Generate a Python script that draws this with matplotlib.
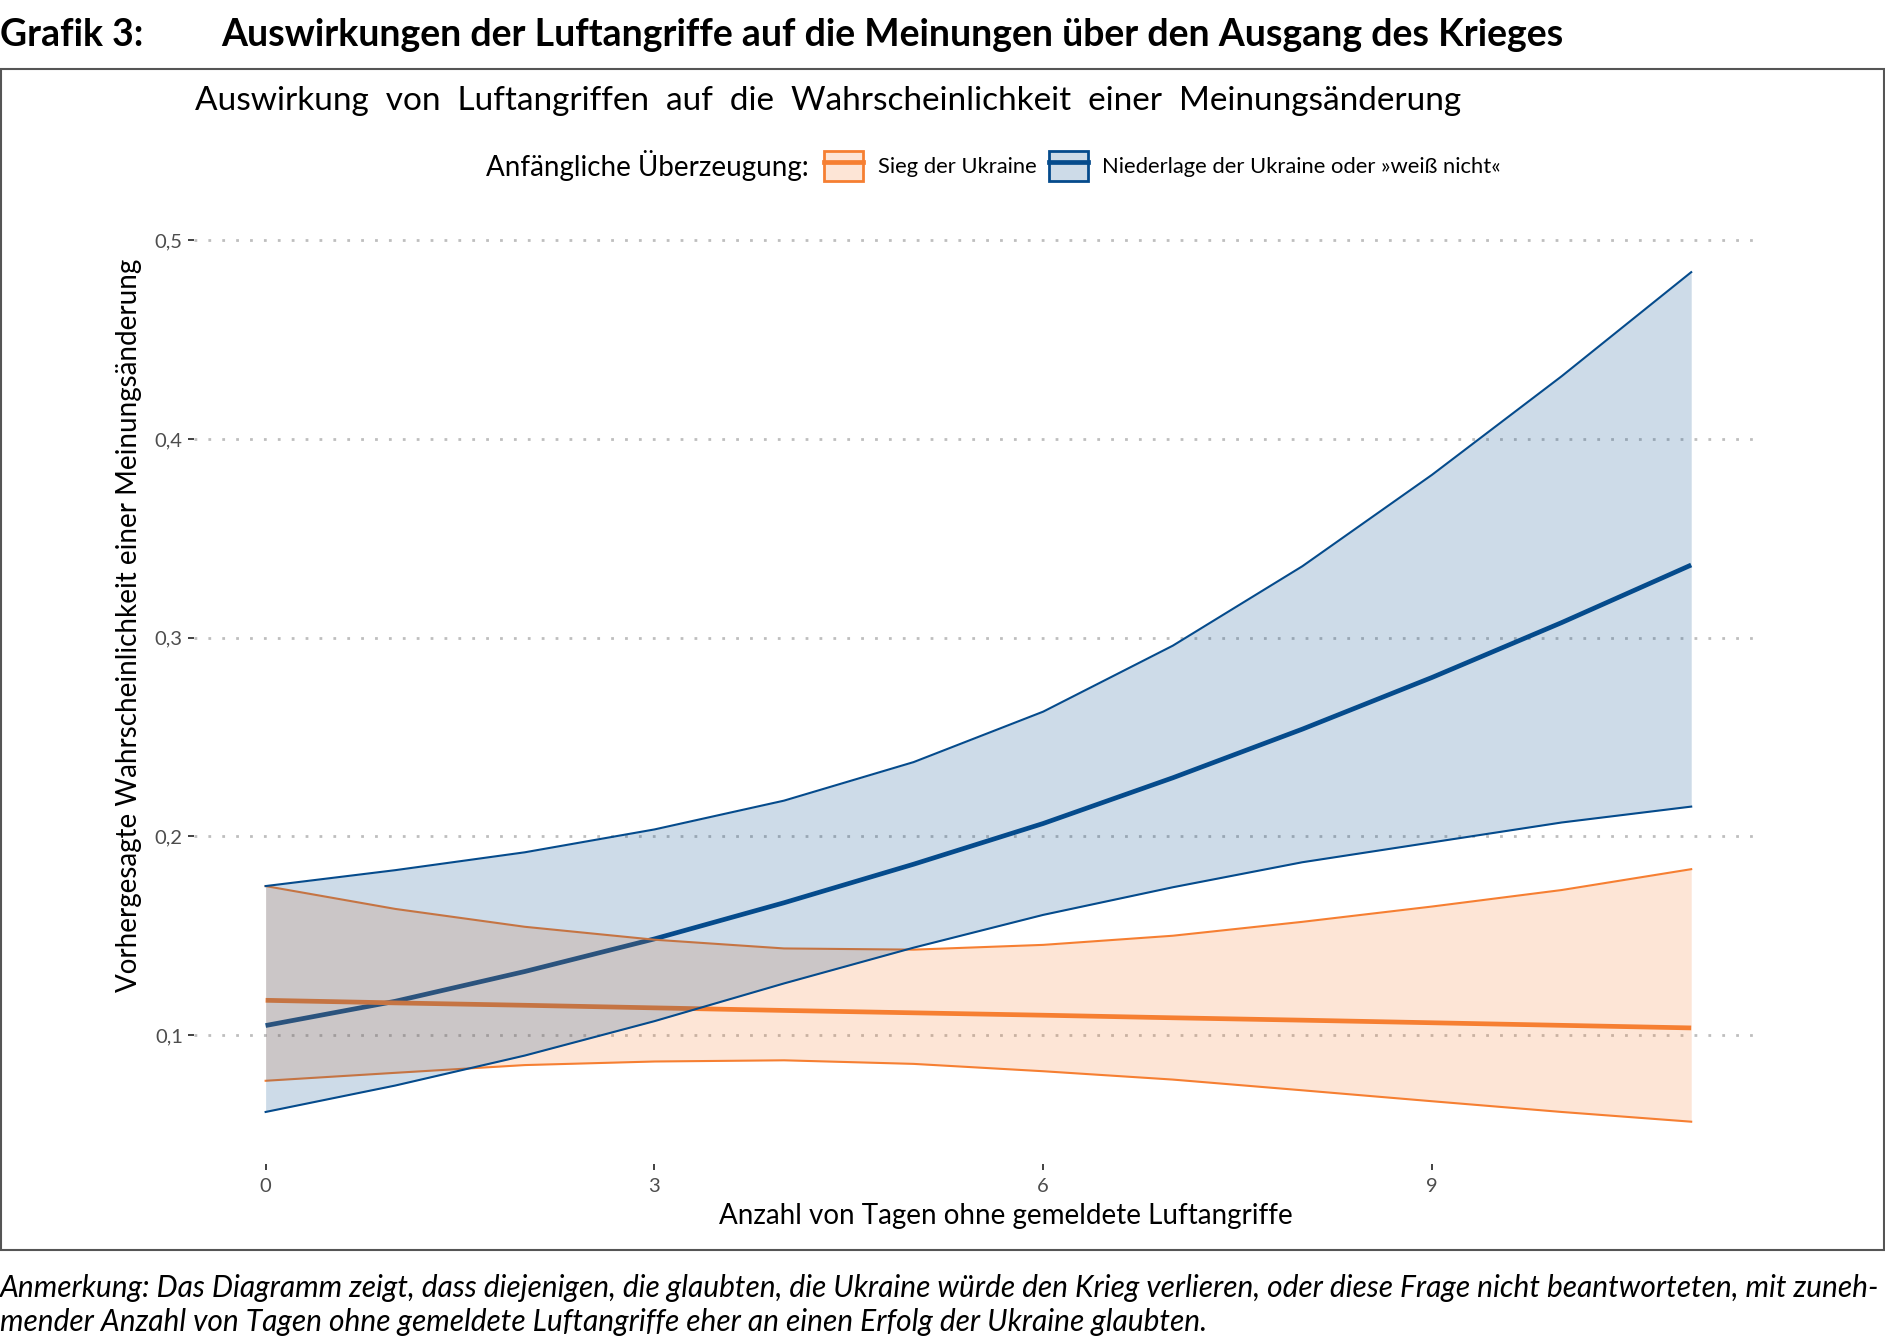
import numpy as np
import matplotlib
matplotlib.use("Agg")
import matplotlib.pyplot as plt
from matplotlib.patches import Patch, Rectangle
from matplotlib.lines import Line2D
from matplotlib.legend_handler import HandlerTuple

plt.rcParams["font.family"] = ["Lato", "DejaVu Sans"]

# Days without reported air raids
days = [0, 1, 2, 3, 4, 5, 6, 7, 8, 9, 10, 11]

# Initial belief: victory of Ukraine
sieg_mean = [0.1175, 0.1162, 0.1150, 0.1137, 0.1124, 0.1112, 0.1100, 0.1087, 0.1075, 0.1062, 0.1049, 0.1036]
sieg_low = [0.0770, 0.0810, 0.0849, 0.0867, 0.0873, 0.0855, 0.0818, 0.0776, 0.0722, 0.0667, 0.0613, 0.0564]
sieg_high = [0.1750, 0.1635, 0.1545, 0.1480, 0.1436, 0.1430, 0.1454, 0.1500, 0.1570, 0.1647, 0.1730, 0.1835]

# Initial belief: defeat of Ukraine or "don't know"
nieder_mean = [0.1048, 0.1170, 0.1320, 0.1484, 0.1666, 0.1860, 0.2065, 0.2295, 0.2540, 0.2800, 0.3076, 0.3366]
nieder_low = [0.0613, 0.0746, 0.0897, 0.1070, 0.1260, 0.1440, 0.1605, 0.1744, 0.1870, 0.1970, 0.2070, 0.2150]
nieder_high = [0.1750, 0.1830, 0.1920, 0.2035, 0.2180, 0.2374, 0.2628, 0.2960, 0.3360, 0.3820, 0.4316, 0.4840]

xticks = [0, 3, 6, 9]
yticks = [0.1, 0.2, 0.3, 0.4, 0.5]
ytick_labels = ["0,1", "0,2", "0,3", "0,4", "0,5"]

orange = "#F67F32"
blue = "#054B8C"

fig = plt.figure(figsize=(18.85, 13.44), dpi=100)
ax = fig.add_axes([0.1031, 0.1338, 0.8319, 0.6953])

# layer order like the original: blue line, orange ribbon, orange line, blue ribbon
ax.plot(days, nieder_mean, color=blue, lw=3.4, zorder=2, solid_capstyle="butt")
ax.fill_between(days, sieg_low, sieg_high, color=orange, alpha=0.2, lw=0, zorder=3)
ax.plot(days, sieg_low, color=orange, lw=1.5, zorder=3)
ax.plot(days, sieg_high, color=orange, lw=1.5, zorder=3)
ax.plot(days, sieg_mean, color=orange, lw=3.4, zorder=4, solid_capstyle="butt")
ax.fill_between(days, nieder_low, nieder_high, color=blue, alpha=0.2, lw=0, zorder=5)
ax.plot(days, nieder_low, color=blue, lw=1.5, zorder=5)
ax.plot(days, nieder_high, color=blue, lw=1.5, zorder=5)

# ggplot-like expansion
ax.set_xlim(-0.55, 11.55)
lo = min(min(sieg_low), min(nieder_low))
hi = max(max(sieg_high), max(nieder_high))
pad = 0.05 * (hi - lo)
ax.set_ylim(lo - pad, hi + pad)

ax.set_xticks(xticks)
ax.set_xticklabels([str(t) for t in xticks])
ax.set_yticks(yticks)
ax.set_yticklabels(ytick_labels)
ax.tick_params(axis="both", length=4.3, width=1.3, color="#333333", labelcolor="#4D4D4D",
               labelsize=14.5, pad=4)
ax.tick_params(axis="x", pad=6)
for s in ax.spines.values():
    s.set_visible(False)
ax.grid(axis="y", color="#BEBEBE", lw=2.0, linestyle=(0, (1, 4)))
ax.set_axisbelow(True)

# axis titles
fig.text(0.5337, 0.0956, "Anzahl von Tagen ohne gemeldete Luftangriffe",
         ha="center", va="center", fontsize=20)
fig.text(0.0682, 0.535, "Vorhergesagte Wahrscheinlichkeit einer Meinungsänderung",
         rotation=90, ha="center", va="center", fontsize=20)

# frame around the chart
fig.add_artist(Rectangle((0.0005, 0.0699), 0.999, 0.8791, transform=fig.transFigure,
                         fill=False, edgecolor="#555555", lw=1.5))

# titles
fig.text(0.0, 0.974, "Grafik 3:", fontsize=27, fontweight="bold", ha="left", va="center")
fig.text(0.1173, 0.974, "Auswirkungen der Luftangriffe auf die Meinungen über den Ausgang des Krieges",
         fontsize=27, fontweight="bold", ha="left", va="center")
fig.text(0.1033, 0.925,
         "Auswirkung  von  Luftangriffen  auf  die  Wahrscheinlichkeit  einer  Meinungsänderung",
         fontsize=24, ha="left", va="center")

# legend
fig.text(0.4292, 0.8765, "Anfängliche Überzeugung:", fontsize=20, ha="right", va="center")
h1 = (Patch(facecolor=orange, alpha=0.2, edgecolor="none"),
      Patch(facecolor="none", edgecolor=orange, lw=2),
      Line2D([], [], color=orange, lw=3.4))
h2 = (Patch(facecolor=blue, alpha=0.2, edgecolor="none"),
      Patch(facecolor="none", edgecolor=blue, lw=2),
      Line2D([], [], color=blue, lw=3.4))
fig.legend([h1, h2], ["Sieg der Ukraine", "Niederlage der Ukraine oder »weiß nicht«"],
           handler_map={tuple: HandlerTuple(ndivide=1, pad=0)},
           loc="center left", bbox_to_anchor=(0.4372, 0.8765), ncol=2, frameon=False,
           fontsize=15.8, handlelength=1.77, handleheight=1.72, handletextpad=0.68,
           columnspacing=0.55, borderpad=0, borderaxespad=0)

# note
fig.text(0.0, 0.042,
         "Anmerkung: Das Diagramm zeigt, dass diejenigen, die glaubten, die Ukraine würde den Krieg "
         "verlieren, oder diese Frage nicht beantworteten, mit zuneh-",
         fontsize=21.5, style="italic", ha="left", va="center")
fig.text(0.0, 0.016,
         "mender Anzahl von Tagen ohne gemeldete Luftangriffe eher an einen Erfolg der Ukraine glaubten.",
         fontsize=21.5, style="italic", ha="left", va="center")

fig.savefig("out.png", dpi=100)
